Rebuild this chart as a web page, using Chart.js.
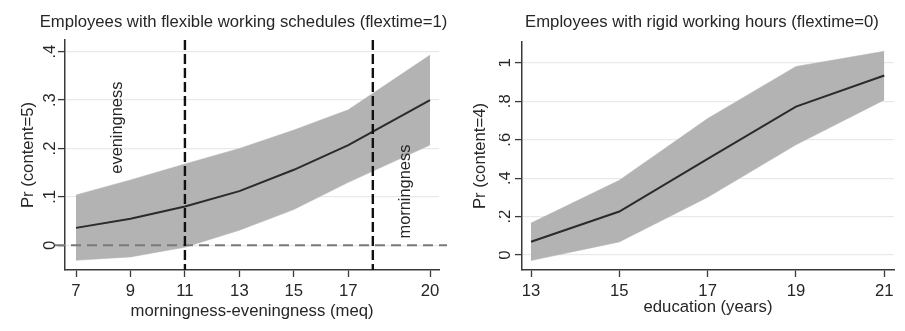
<!DOCTYPE html>
<html>
<head>
<meta charset="utf-8">
<title>Predicted probabilities by flextime</title>
<script src="https://cdn.jsdelivr.net/npm/chart.js@4.4.1/dist/chart.umd.min.js"></script>
<style>
  html, body { margin: 0; padding: 0; background: #ffffff; }
  #wrap { position: relative; width: 905px; height: 331px; overflow: hidden; }
  .panel { position: absolute; top: 0; height: 331px; }
  #p1 { left: 0; width: 452px; }
  #p2 { left: 452px; width: 453px; }
  canvas { display: block; }
</style>
</head>
<body>
<div id="wrap">
  <div class="panel" id="p1"><canvas id="c1" width="452" height="331"></canvas></div>
  <div class="panel" id="p2"><canvas id="c2" width="453" height="331"></canvas></div>
</div>
<script>
// ---- Flexible schedules (flextime=1): Pr(content=5) over meq ----
const meq        = [7, 9, 11, 13, 15, 17, 20];
const prFlex     = [0.036, 0.055, 0.080, 0.112, 0.156, 0.207, 0.300];
const prFlexHi   = [0.104, 0.135, 0.168, 0.200, 0.238, 0.280, 0.393];
const prFlexLo   = [-0.031, -0.024, -0.004, 0.031, 0.074, 0.130, 0.207];
const meqTicks   = [7, 9, 11, 13, 15, 17, 20];
const flexYTicks = [0, 0.1, 0.2, 0.3, 0.4];
const flexYLabels = ['0', '.1', '.2', '.3', '.4'];
const meqCutoffs = [11, 17.9];

// ---- Rigid hours (flextime=0): Pr(content=4) over education ----
const edu         = [13, 15, 17, 19, 21];
const prRigid     = [0.069, 0.226, 0.500, 0.772, 0.934];
const prRigidHi   = [0.166, 0.389, 0.710, 0.981, 1.060];
const prRigidLo   = [-0.029, 0.068, 0.300, 0.573, 0.807];
const eduTicks    = [13, 15, 17, 19, 21];
const rigidYTicks = [0, 0.2, 0.4, 0.6, 0.8, 1];
const rigidYLabels = ['0', '.2', '.4', '.6', '.8', '1'];

const FONT_FAMILY = "'Liberation Sans', Arial, Helvetica, sans-serif";
const TEXT = '#262626';
const AXIS = '#3a3a3a';
const GRID = '#e9e9e9';
const BAND = '#b3b3b3';
const LINE = '#2b2b2b';
const font = (size) => ({ family: FONT_FAMILY, size: size, weight: 'normal', lineHeight: 1.2 });

const pts = (xs, ys) => xs.map((x, i) => ({ x: x, y: ys[i] }));

// Dashed reference lines and rotated notes, placed through the chart scales
const guides = {
  id: 'guides',
  afterDatasetsDraw(chart, args, o) {
    const { ctx, chartArea: a, scales: { x, y } } = chart;
    ctx.save();
    (o.hLines || []).forEach(v => {
      const py = y.getPixelForValue(v);
      ctx.strokeStyle = o.hColor;
      ctx.lineWidth = o.hWidth;
      ctx.setLineDash(o.hDash);
      ctx.beginPath();
      ctx.moveTo(a.left - o.hOverhangLeft, py);
      ctx.lineTo(a.right + o.hOverhangRight, py);
      ctx.stroke();
    });
    (o.vLines || []).forEach(v => {
      const px = x.getPixelForValue(v);
      ctx.strokeStyle = o.vColor;
      ctx.lineWidth = o.vWidth;
      ctx.setLineDash(o.vDash);
      ctx.beginPath();
      ctx.moveTo(px, a.top);
      ctx.lineTo(px, a.bottom);
      ctx.stroke();
    });
    ctx.setLineDash([]);
    (o.notes || []).forEach(n => {
      ctx.save();
      ctx.translate(x.getPixelForValue(n.x), y.getPixelForValue(n.y));
      ctx.rotate(-Math.PI / 2);
      ctx.font = `${o.noteSize}px ${FONT_FAMILY}`;
      ctx.fillStyle = TEXT;
      ctx.textAlign = 'center';
      ctx.textBaseline = 'middle';
      ctx.fillText(n.text, 0, 0);
      ctx.restore();
    });
    ctx.restore();
  }
};

// p.padLeft + p.yWidth = left edge of the plot; p.rightGap = space right of the plot.
// The title spans the full canvas minus padLeft, so it can be wider than the plot.
function buildChart(canvasId, p) {
  return new Chart(document.getElementById(canvasId), {
    type: 'line',
    data: {
      datasets: [
        { label: 'Pr', data: pts(p.xs, p.mid), borderColor: LINE, borderWidth: 2,
          pointRadius: 0, fill: false, tension: 0, order: 0 },
        { label: 'upper', data: pts(p.xs, p.hi), borderColor: BAND, borderWidth: 0.5,
          backgroundColor: BAND, pointRadius: 0, fill: '+1', tension: 0, order: 1 },
        { label: 'lower', data: pts(p.xs, p.lo), borderColor: BAND, borderWidth: 0.5,
          pointRadius: 0, fill: false, tension: 0, order: 1 }
      ]
    },
    options: {
      responsive: false,
      animation: false,
      devicePixelRatio: 1,
      layout: { padding: { left: p.padLeft, right: 0, top: 0, bottom: 0 } },
      plugins: {
        legend: { display: false },
        tooltip: { enabled: false },
        title: {
          display: true, text: p.title, fullSize: true, color: TEXT,
          font: font(16.7), padding: { top: 12.5, bottom: p.titleGap }
        },
        guides: p.guides || {}
      },
      scales: {
        x: {
          type: 'linear', position: 'bottom', min: p.xMin, max: p.xMax,
          afterBuildTicks: s => { s.ticks = p.xTicks.map(v => ({ value: v })); },
          afterFit: s => { s.height = 61; },
          ticks: { color: TEXT, font: font(16.7), padding: 4, maxRotation: 0, autoSkip: false,
                   callback: (v, i) => String(p.xTicks[i]) },
          grid: { drawOnChartArea: false, drawTicks: true, tickLength: 7, tickColor: AXIS, tickWidth: 1.3 },
          border: { display: true, color: AXIS, width: 1.5 },
          title: { display: true, text: p.xTitle, color: TEXT, font: font(16.7),
                   padding: { top: 0, bottom: p.xTitlePad } }
        },
        y: {
          type: 'linear', position: 'left', min: p.yMin, max: p.yMax,
          afterBuildTicks: s => { s.ticks = p.yTicks.map(v => ({ value: v })); },
          afterFit: s => { s.width = p.yWidth; },
          ticks: { color: TEXT, font: font(16.7), padding: p.yTickPad, minRotation: 90, maxRotation: 90,
                   crossAlign: 'center', autoSkip: false,
                   callback: (v, i) => p.yLabels[i] },
          grid: { color: GRID, lineWidth: 1.2, drawTicks: true, tickLength: 7, tickColor: AXIS, tickWidth: 1.3 },
          border: { display: true, color: AXIS, width: 1.5 },
          // y title sits left of the scale box, at a fixed distance from the canvas edge
          title: { display: true, text: p.yTitle, color: TEXT, font: font(16.7),
                   padding: { top: 18 - p.padLeft, bottom: 0 } }
        },
        // empty right-hand strip keeping the plot clear of the canvas edge
        gap: {
          type: 'linear', position: 'right', display: true,
          afterFit: s => { s.width = p.rightGap; },
          ticks: { display: false }, grid: { display: false }, border: { display: false },
          title: { display: false }
        }
      }
    },
    plugins: [guides]
  });
}

buildChart('c1', {
  title: 'Employees with flexible working schedules (flextime=1)',
  xs: meq, mid: prFlex, hi: prFlexHi, lo: prFlexLo,
  xTicks: meqTicks, yTicks: flexYTicks, yLabels: flexYLabels,
  xMin: 6.596, xMax: 20.33, yMin: -0.051, yMax: 0.424,
  xTitle: 'morningness-eveningness (meq)', yTitle: 'Pr (content=5)',
  padLeft: 35, yWidth: 30, rightGap: 13, titleGap: 7.5, yTickPad: 1, xTitlePad: 10,
  guides: {
    hLines: [0], hColor: '#7a7a7a', hWidth: 2, hDash: [10, 6], hOverhangLeft: 10, hOverhangRight: 8,
    vLines: meqCutoffs, vColor: '#111111', vWidth: 2.4, vDash: [10, 4],
    noteSize: 16.4,
    notes: [
      { text: 'eveningness', x: 8.52, y: 0.243 },
      { text: 'morningness', x: 19.10, y: 0.111 }
    ]
  }
});

buildChart('c2', {
  title: 'Employees with rigid working hours (flextime=0)',
  xs: edu, mid: prRigid, hi: prRigidHi, lo: prRigidLo,
  xTicks: eduTicks, yTicks: rigidYTicks, yLabels: rigidYLabels,
  xMin: 12.796, xMax: 21.22, yMin: -0.078, yMax: 1.108,
  xTitle: 'education (years)', yTitle: 'Pr (content=4)',
  padLeft: 47, yWidth: 23, rightGap: 11, titleGap: 9.5, yTickPad: 3, xTitlePad: 14
});
</script>
</body>
</html>
